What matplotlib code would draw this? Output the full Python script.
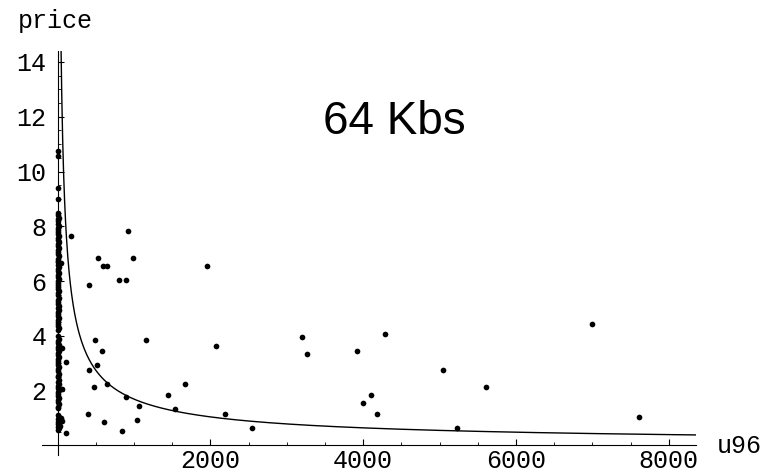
import numpy as np
import matplotlib.pyplot as plt
from matplotlib.ticker import FixedLocator

# offers sitting right at the price axis (u96 close to zero)
col_u96 = [8, 14, 6, 18, 10, 4, 16, 12, 20, 9,
           12, 7, 15, 5, 11, 18, 9, 13, 6, 16,
           10, 4, 14, 8, 19, 12, 6, 15, 9, 11,
           17, 7, 13, 5, 10, 16, 8, 12, 18, 6,
           11, 14, 7, 9, 15, 5, 12, 18, 8, 10,
           13, 6, 16, 9, 11, 4, 14, 8, 17, 10,
           7, 12, 15, 5, 9, 18, 11, 6, 13, 10,
           8, 16, 12, 4, 14, 9, 11, 17, 7, 10,
           13, 6, 15, 9, 12, 5, 18, 8, 11, 14,
           7, 10, 16, 6, 12, 9, 13, 15, 8, 11,
           10, 14, 6, 12, 5, 4, 7, 6]
col_price = [0.55, 0.62, 0.68, 0.75, 0.8, 0.86, 0.92, 0.98, 1.05, 1.1,
             1.35, 1.42, 1.5, 1.58, 1.65, 1.72, 1.8, 1.88, 1.95, 2.02,
             2.1, 2.18, 2.25, 2.32, 2.4, 2.48, 2.55, 2.62, 2.7, 2.78,
             2.85, 2.92, 3.0, 3.08, 3.15, 3.22, 3.3, 3.38, 3.45, 3.52,
             3.6, 3.68, 3.75, 3.82, 3.9, 3.98, 4.2, 4.28, 4.35, 4.42,
             4.5, 4.58, 4.65, 4.72, 4.8, 4.88, 4.95, 5.02, 5.1, 5.18,
             5.25, 5.32, 5.4, 5.48, 5.55, 5.62, 5.7, 5.78, 5.85, 5.92,
             6.0, 6.08, 6.15, 6.22, 6.3, 6.38, 6.45, 6.52, 6.6, 6.68,
             6.75, 6.82, 6.9, 6.98, 7.05, 7.12, 7.2, 7.28, 7.35, 7.42,
             7.5, 7.58, 7.65, 7.72, 7.8, 7.88, 7.95, 8.02, 8.1, 8.18,
             8.25, 8.32, 8.4, 8.48, 9.0, 9.38, 10.55, 10.75]

# the remaining offers
u96 = [177, 919, 534, 591, 644, 984, 408, 809, 893, 491,
       578, 1158, 115, 59, 416, 517, 474, 644, 63, 897,
       1063, 1446, 1542, 1669, 395, 609, 1045, 844, 107, 55,
       40, 46, 33, 1961, 2070, 2188, 2541, 3196, 3261, 3920,
       4291, 4003, 4103, 4178, 5046, 5225, 5613, 7000, 7607]
price = [7.66, 7.84, 6.86, 6.56, 6.56, 6.86, 5.86, 6.05, 6.05, 3.85,
         3.46, 3.85, 3.05, 3.55, 2.76, 2.95, 2.15, 2.25, 2.05, 1.75,
         1.44, 1.84, 1.34, 2.25, 1.15, 0.85, 0.93, 0.54, 0.44, 0.9,
         1.0, 6.65, 0.7, 6.55, 3.64, 1.14, 0.64, 3.95, 3.34, 3.44,
         4.05, 1.54, 1.83, 1.14, 2.75, 0.64, 2.14, 4.45, 1.04]

# fitted power law price = a * u96^-b
fit_a = 213.0
fit_b = 0.7

xmajor = [2000, 4000, 6000, 8000]
ymajor = [2, 4, 6, 8, 10, 12, 14]

mono = 'Liberation Mono'

fig = plt.figure(figsize=(7.74, 4.75), dpi=100)
ax = fig.add_axes([42.3 / 774, 20 / 475, (695.7 - 42.3) / 774, (455 - 51) / 475])

xs = np.linspace(30, 8353, 2000)
ax.plot(xs, fit_a * xs ** (-fit_b), color='black', lw=1.0, zorder=2)
ax.plot(col_u96, col_price, 'o', color='black', ms=4.1, mew=0, zorder=3)
ax.plot(u96, price, 'o', color='black', ms=4.1, mew=0, zorder=3)

ax.set_xlim(-199, 8353)
ax.set_ylim(-0.35, 14.4)

for s in ['top', 'right']:
    ax.spines[s].set_visible(False)
ax.spines['left'].set_position(('data', 0))
ax.spines['bottom'].set_position(('data', 0))
for s in ['left', 'bottom']:
    ax.spines[s].set_linewidth(0.8)

ax.xaxis.set_major_locator(FixedLocator(xmajor))
ax.xaxis.set_minor_locator(FixedLocator(np.arange(500, 8001, 500)))
ax.yaxis.set_major_locator(FixedLocator(ymajor))
ax.yaxis.set_minor_locator(FixedLocator(np.arange(0.5, 14.01, 0.5)))
ax.set_xticklabels([str(v) for v in xmajor], fontfamily=mono, fontsize=18)
ax.set_yticklabels([str(v) for v in ymajor], fontfamily=mono, fontsize=18)
ax.tick_params(axis='both', which='major', direction='in', length=4, width=0.8)
ax.tick_params(axis='both', which='minor', direction='in', length=2.2, width=0.6)
ax.tick_params(axis='x', which='major', pad=2.5)
ax.tick_params(axis='y', which='major', pad=8)

fig.text(18 / 774, 1 - 28 / 475, 'price', fontfamily=mono, fontsize=18, va='baseline')
fig.text(717 / 774, 1 - 452.7 / 475, 'u96', fontfamily=mono, fontsize=18, va='baseline')
ax.text(3475, 11.37, '64 Kbs', fontfamily='Liberation Sans', fontsize=33, va='baseline')

fig.savefig('out.png', dpi=100)
